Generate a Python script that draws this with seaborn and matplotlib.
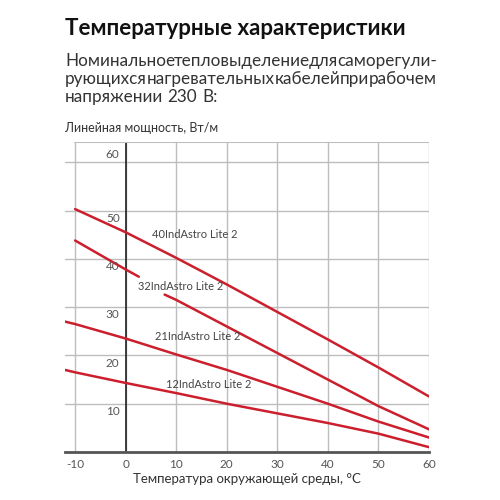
import matplotlib
matplotlib.use("Agg")
import matplotlib.pyplot as plt
import seaborn as sns
import pandas as pd
import numpy as np

sns.set_style("white")
plt.rcParams['font.family'] = ['Lato', 'DejaVu Sans']

temps = [-12, -10, 0, 10, 20, 30, 40, 50, 60]
s40 = [None, 50.3, 45.5, 40.2, 34.7, 29.0, 23.3, 17.5, 11.5]
s21 = [27.0, 26.5, 23.5, 20.2, 17.0, 13.5, 10.0, 6.3, 3.0]
s12 = [17.0, 16.5, 14.3, 12.2, 10.0, 8.0, 6.0, 3.8, 1.0]
s32_a_x = [-10, 0, 2.6]
s32_a_y = [43.8, 37.8, 36.3]
s32_b_x = [7.7, 10, 20, 30, 40, 50, 60]
s32_b_y = [32.6, 31.5, 26.0, 20.5, 15.0, 9.5, 4.7]
labels = ["40IndAstro Lite 2", "32IndAstro Lite 2", "21IndAstro Lite 2", "12IndAstro Lite 2"]
label_pos = [(13.6, 45.0), (10.9, 34.2), (14.3, 23.9), (16.5, 13.9)]
xticks = [-10, 0, 10, 20, 30, 40, 50, 60]
yticks = [10, 20, 30, 40, 50, 60]

rows = []
for name, ys in [("40", s40), ("21", s21), ("12", s12)]:
    for t, v in zip(temps, ys):
        if v is not None:
            rows.append((t, v, name))
for t, v in zip(s32_a_x, s32_a_y):
    rows.append((t, v, "32a"))
for t, v in zip(s32_b_x, s32_b_y):
    rows.append((t, v, "32b"))
df = pd.DataFrame(rows, columns=["x", "y", "seg"])

fig = plt.figure(figsize=(5, 5), dpi=100)
ax = fig.add_axes([0.13, 0.096, 0.728, 0.62])
red = "#cc1f2d"
sns.lineplot(data=df, x="x", y="y", units="seg", estimator=None, color=red, lw=1.8, ax=ax, sort=False)

ax.set_xlim(-12, 60)
ax.set_ylim(0, 64.2)
for v in xticks:
    ax.axvline(v, color="#bdbdbd", lw=1, zorder=0)
for v in yticks:
    ax.axhline(v, color="#bdbdbd", lw=1, zorder=0, xmin=0)
ax.axvline(0, color="#111111", lw=1.1, zorder=1)
for s in ["left", "right", "top"]:
    ax.spines[s].set_visible(False)
ax.axhline(64.2, color="#bdbdbd", lw=1.5, xmin=2/72)
ax.spines["bottom"].set_color("#555555")
ax.spines["bottom"].set_linewidth(2)
ax.set_xticks(xticks)
ax.set_xticklabels([str(v) for v in xticks], color="#555555", fontsize=8.5)
ax.tick_params(axis="x", length=0, pad=5)
ax.set_yticks([])
ax.set_xlabel("Температура окружающей среды, °С", fontsize=9.5, color="#333333", labelpad=2)
ax.set_ylabel("")
for v in yticks:
    off = 1.6 if v == 60 else -1.6
    ax.text(-1.2, v + off, str(v), ha="right", va="center", fontsize=8.5, color="#555555")
for lab, (lx, ly) in zip(labels, label_pos):
    ax.text(lx, ly, lab, ha="center", va="center", fontsize=8, color="#444444")

fig.text(0.13, 0.93, "Температурные характеристики", fontsize=16, fontweight="bold", color="#111111", va="baseline")
fig.text(0.13, 0.737, "Линейная мощность, Вт/м", fontsize=9, color="#333333", va="baseline")

para = ["Номинальное тепловыделение для саморегули-",
        "рующихся нагревательных кабелей при рабочем",
        "напряжении 230 В:"]
left_px, right_px = 65, 437
base_y = [66, 84, 102]
fig.canvas.draw()
r = fig.canvas.get_renderer()
for i, line in enumerate(para):
    words = line.split(" ")
    ts = [fig.text(0, 1 - base_y[i] / 500, w, fontsize=12.3, color="#333333", va="baseline") for w in words]
    widths = [t.get_window_extent(r).width for t in ts]
    if i < len(para) - 1:
        gap = (right_px - left_px - sum(widths)) / (len(words) - 1)
    else:
        gap = 4.5
    x = left_px
    for t, w in zip(ts, widths):
        t.set_x(x / 500)
        x += w + gap

fig.savefig("out.png", dpi=100)
